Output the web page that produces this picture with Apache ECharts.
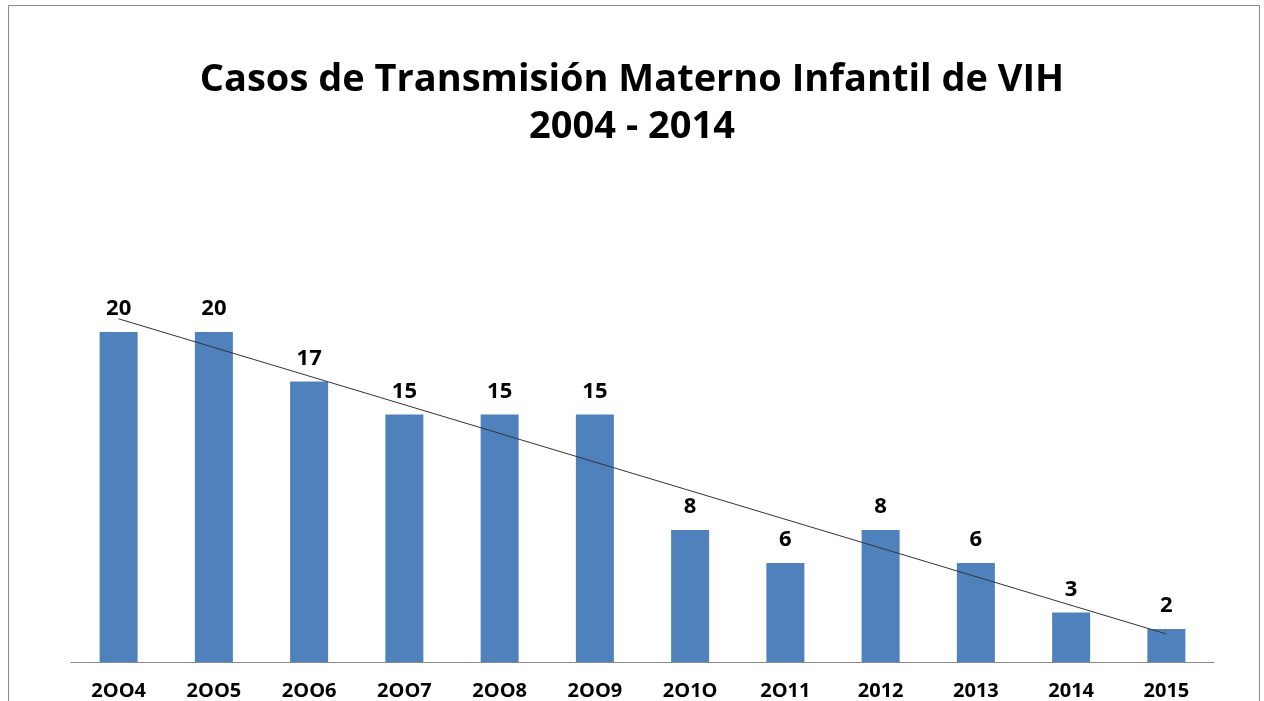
<!DOCTYPE html>
<html>
<head>
<meta charset="utf-8">
<script src="https://cdn.jsdelivr.net/npm/echarts@6/dist/echarts.min.js"></script>
<style>
  html, body { margin: 0; padding: 0; background: #fff; }
  #chart { width: 1264px; height: 701px; }
</style>
</head>
<body>
<div id="chart"></div>
<script>
// categorias tal como aparecen en el grafico
var years = ['2OO4', '2OO5', '2OO6', '2OO7', '2OO8', '2OO9', '2O1O', '2O11', '2012', '2013', '2014', '2015'];
var casos = [20, 20, 17, 15, 15, 15, 8, 6, 8, 6, 3, 2];
// linea de tendencia: solo extremos
var tendencia = [20.8, null, null, null, null, null, null, null, null, null, null, 1.7];

var chart = echarts.init(document.getElementById('chart'));

var option = {
    backgroundColor: '#fff',
    animation: false,
    title: {
        text: 'Casos de Transmisión Materno Infantil de VIH\n2004 - 2014',
        left: 'center',
        top: 52,
        textStyle: {
            fontFamily: 'Open Sans',
            fontWeight: 'bold',
            fontSize: 38,
            lineHeight: 47,
            color: '#000'
        }
    },
    graphic: [
        {
            type: 'rect',
            shape: { x: 8.5, y: 5.5, width: 1251, height: 700 },
            style: { fill: null, stroke: '#888', lineWidth: 1 }
        }
    ],
    grid: { left: 71, right: 50, top: 266, bottom: 35 },
    xAxis: {
        type: 'category',
        data: years,
        axisLine: { lineStyle: { color: '#888', width: 1 } },
        axisTick: { show: false },
        axisLabel: {
            color: '#000',
            fontWeight: 'bold',
            fontFamily: 'Open Sans',
            fontSize: 20,
            margin: 19
        }
    },
    yAxis: {
        type: 'value',
        min: 0,
        max: 24,
        show: false,
        splitLine: { show: false }
    },
    series: [
        {
            name: 'Casos',
            type: 'bar',
            data: casos,
            barWidth: 38,
            itemStyle: { color: '#4F81BD' },
            label: {
                show: true,
                position: 'top',
                distance: 12,
                color: '#000',
                fontWeight: 'bold',
                fontFamily: 'Open Sans',
                fontSize: 22
            }
        },
        {
            name: 'Tendencia',
            type: 'line',
            data: tendencia,
            connectNulls: true,
            symbol: 'none',
            lineStyle: { color: '#333', width: 1 },
            z: 5
        }
    ]
};

chart.setOption(option);
</script>
</body>
</html>
